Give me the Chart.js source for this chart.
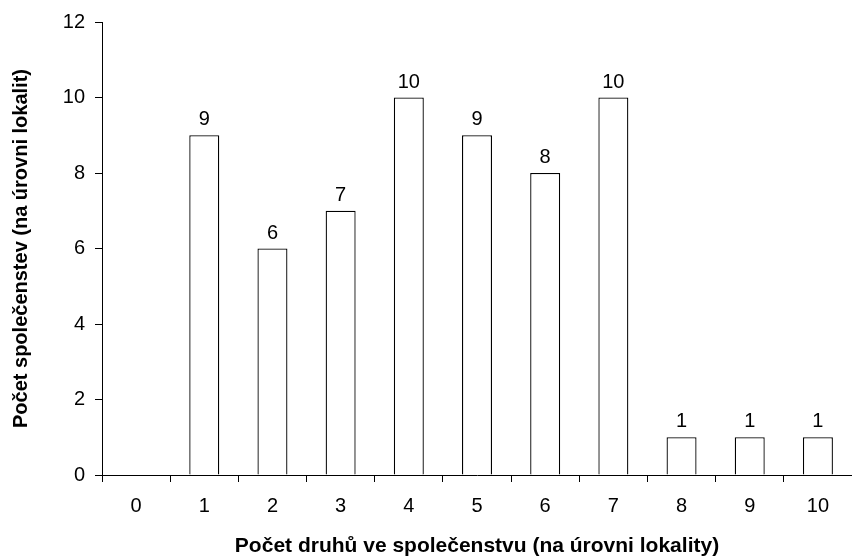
<!DOCTYPE html>
<html>
<head>
<meta charset="utf-8">
<script src="https://cdn.jsdelivr.net/npm/chart.js@4.4.0/dist/chart.umd.min.js"></script>
<style>
    html, body { margin: 0; padding: 0; background: #ffffff; }
    #wrap { width: 852px; height: 559px; position: relative; }
</style>
</head>
<body>
<div id="wrap"><canvas id="druhy"></canvas></div>
<script>
// Počet společenstev podle počtu druhů
const kategorie = ['0', '1', '2', '3', '4', '5', '6', '7', '8', '9', '10'];
const pocty = [0, 9, 6, 7, 10, 9, 8, 10, 1, 1, 1];
const yTicks = [0, 2, 4, 6, 8, 10, 12];

const FONT = 'Liberation Sans, Arial, sans-serif';

// Popisky hodnot nad sloupci
const valueLabels = {
    id: 'valueLabels',
    afterDatasetsDraw: function(chart) {
        const ctx = chart.ctx;
        const meta = chart.getDatasetMeta(0);
        ctx.save();
        ctx.font = '20px ' + FONT;
        ctx.fillStyle = '#000';
        ctx.textAlign = 'center';
        ctx.textBaseline = 'alphabetic';
        meta.data.forEach(function(bar, i) {
            if (pocty[i] > 0) {
                ctx.fillText(String(pocty[i]), bar.x, bar.y - 10);
            }
        });
        ctx.restore();
    }
};

new Chart(document.getElementById('druhy').getContext('2d'), {
    type: 'bar',
    data: {
        labels: kategorie,
        datasets: [{
            data: pocty,
            backgroundColor: '#ffffff',
            borderColor: '#000000',
            borderWidth: 1.3,
            categoryPercentage: 1.0,
            barPercentage: 0.44
        }]
    },
    options: {
        responsive: true,
        maintainAspectRatio: false,
        animation: false,
        layout: { padding: { top: 21, right: 0, left: 0, bottom: 0 } },
        plugins: {
            legend: { display: false },
            tooltip: { enabled: false }
        },
        scales: {
            x: {
                grid: {
                    display: true,
                    drawOnChartArea: false,
                    drawTicks: true,
                    tickLength: 7,
                    tickColor: '#000',
                    tickWidth: 1,
                    offset: true
                },
                border: { display: true, color: '#000', width: 1 },
                ticks: {
                    color: '#000',
                    font: { family: FONT, size: 20 },
                    padding: 12,
                    maxRotation: 0
                },
                title: {
                    display: true,
                    text: 'Počet druhů ve společenstvu (na úrovni lokality)',
                    color: '#000',
                    font: { family: FONT, size: 21, weight: 'bold' },
                    padding: { top: 10, bottom: 0 }
                },
                afterFit: function(scale) { scale.height = 84; }
            },
            y: {
                min: 0,
                max: 12,
                afterBuildTicks: function(scale) {
                    scale.ticks = yTicks.map(function(v) { return { value: v }; });
                },
                grid: {
                    display: true,
                    drawOnChartArea: false,
                    drawTicks: true,
                    tickLength: 7,
                    tickColor: '#000',
                    tickWidth: 1
                },
                border: { display: true, color: '#000', width: 1 },
                ticks: {
                    color: '#000',
                    font: { family: FONT, size: 20 },
                    padding: 10
                },
                title: {
                    display: true,
                    text: 'Počet společenstev (na úrovni lokalit)',
                    color: '#000',
                    font: { family: FONT, size: 20, weight: 'bold' },
                    padding: { top: 9, bottom: 0 }
                },
                afterFit: function(scale) { scale.width = 102; }
            }
        }
    },
    plugins: [valueLabels]
});
</script>
</body>
</html>
